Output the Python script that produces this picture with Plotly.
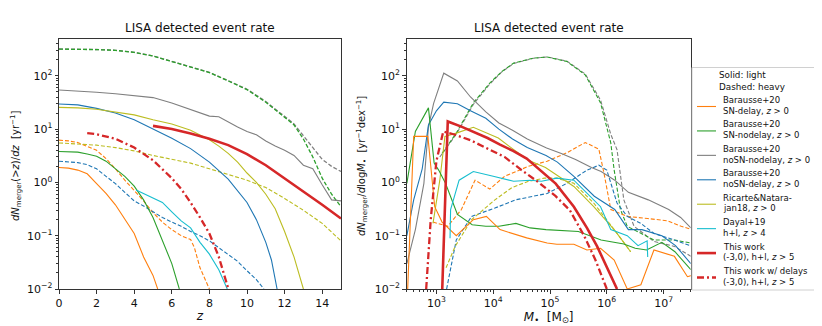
import numpy as np
import plotly.graph_objects as go

# colours (matplotlib tab10)
ORANGE = '#ff7f0e'
GREEN = '#2ca02c'
GREY = '#7f7f7f'
BLUE = '#1f77b4'
OLIVE = '#bcbd22'
CYAN = '#17becf'
RED = '#d62728'

# ---------------- left panel: dN(>z)/dz vs z ----------------
z_sndelay_l = [0, 0.5, 1, 1.5, 2, 2.5, 3, 3.5, 4, 4.5, 5, 5.25]
n_sndelay_l = [1.9, 1.85, 1.7, 1.45, 0.95, 0.62, 0.38, 0.2, 0.11, 0.04, 0.018, 0.01]
z_snnodelay_l = [0, 0.5, 1, 1.5, 2, 2.5, 3, 3.5, 4, 4.5, 5, 5.5, 6, 6.4]
n_snnodelay_l = [3.8, 3.8, 3.7, 3.4, 3.1, 2.5, 1.8, 1.3, 0.85, 0.47, 0.22, 0.08, 0.03, 0.01]
z_nosnnodelay_l = [0, 1, 2, 3, 4, 5, 6, 7, 7.5, 8, 8.5, 9, 9.5, 10, 10.5, 11, 11.5,
                   12, 12.5, 13, 13.5, 14, 14.5, 15]
n_nosnnodelay_l = [54, 52, 49, 46, 43, 39, 31, 23, 20, 17.5, 17, 13.5, 11, 9, 7.8, 6,
                   4.8, 4.0, 3.2, 2.1, 1.8, 0.9, 0.47, 0.45]
z_nosndelay_l = [0, 1, 2, 3, 4, 5, 6, 7, 8, 9, 10, 10.5, 11, 11.3, 11.6]
n_nosndelay_l = [29.5, 28.5, 24.5, 20, 15, 10, 6.7, 4.3, 2.4, 1.15, 0.42, 0.2, 0.075, 0.035, 0.01]
z_ricarte_l = [0, 1, 2, 3, 4, 5, 6, 7, 8, 8.5, 9, 9.5, 10, 10.5, 11, 11.5, 12, 12.5, 13]
n_ricarte_l = [25.5, 25, 23.5, 21, 18.5, 15, 12.5, 9.5, 6.3, 4.8, 3.5, 2.4, 1.5, 1.0,
               0.6, 0.32, 0.12, 0.04, 0.01]
z_dayal = [4.1, 4.5, 5, 5.5, 6, 6.5, 7, 7.5, 8, 8.5, 8.95]
n_dayal = [0.72, 0.62, 0.52, 0.42, 0.28, 0.19, 0.14, 0.075, 0.045, 0.023, 0.01]
z_thiswork = [5, 6, 7, 8, 9, 10, 11, 12, 13, 14, 15]
n_thiswork = [11.5, 10, 8.3, 6.6, 5.0, 3.4, 2.1, 1.2, 0.68, 0.38, 0.21]
z_thiswork_d = [1.5, 2, 3, 4, 5, 6, 6.5, 7, 7.5, 8, 8.5, 9, 9.05]
n_thiswork_d = [8.4, 8.0, 6.6, 4.5, 2.6, 1.2, 0.75, 0.42, 0.22, 0.11, 0.04, 0.011, 0.009]

z_sndelay_h = [0, 0.5, 1, 1.5, 2, 2.5, 3, 3.5, 4, 4.5, 5, 5.5, 6, 6.5, 7, 7.2, 7.5, 8]
n_sndelay_h = [6.2, 6.0, 5.6, 4.8, 4.0, 2.8, 1.8, 1.1, 0.7, 0.45, 0.27, 0.18, 0.13, 0.1,
               0.085, 0.06, 0.025, 0.01]
z_snnodelay_h = [0, 1, 2, 3, 4, 5, 6, 7, 8, 9, 10, 11, 12, 12.5, 13, 13.5, 14, 14.5, 15]
n_snnodelay_h = [316, 315, 310, 300, 275, 235, 185, 150, 115, 80, 55, 32, 17, 12, 6.5,
                 3.0, 1.2, 0.6, 0.35]
z_nosnnodelay_h = [0, 1, 2, 3, 4, 5, 6, 7, 8, 9, 10, 11, 12, 12.5, 13, 13.5, 14, 14.5, 15]
n_nosnnodelay_h = [318, 316, 311, 301, 276, 236, 186, 151, 116, 81, 56, 33, 17, 12.5,
                   7.5, 4.6, 2.7, 2.0, 1.6]
z_nosndelay_h = [0, 0.5, 1, 1.5, 2, 2.5, 3, 3.5, 4, 4.5, 5, 5.5, 6, 6.5, 7, 7.5, 8, 8.5,
                 9, 9.5, 10, 10.5, 10.9]
n_nosndelay_h = [2.5, 2.45, 2.35, 2.15, 1.8, 1.3, 0.95, 0.65, 0.45, 0.36, 0.28, 0.22,
                 0.18, 0.15, 0.12, 0.1, 0.08, 0.06, 0.045, 0.033, 0.022, 0.015, 0.01]
z_ricarte_h = [0, 1, 2, 3, 4, 5, 6, 7, 8, 9, 10, 11, 12, 13, 14, 15]
n_ricarte_h = [5.5, 5.3, 5.0, 4.5, 3.9, 3.2, 2.7, 2.3, 1.8, 1.4, 1.1, 0.8, 0.5, 0.3, 0.17, 0.08]

# ---------------- right panel: dN/dlogM vs M (log10 M) ----------------
lm_sndelay_l = [2.48, 2.6, 2.85, 2.97, 3.1, 3.35, 3.65, 3.88, 4.12, 4.59, 4.95, 5.12,
                5.42, 5.65, 5.89, 6.13, 6.36, 6.6, 6.83, 7.19, 7.42, 7.5]
r_sndelay_l = [0.004, 7.3, 7.3, 0.35, 0.18, 0.1, 0.2, 0.23, 0.13, 0.091, 0.073, 0.069,
               0.069, 0.054, 0.058, 0.035, 0.01, 0.012, 0.054, 0.041, 0.017, 0.018]
lm_snnodelay_l = [2.48, 2.63, 2.86, 2.96, 3.04, 3.16, 3.37, 3.63, 3.87, 4.1, 4.4, 4.65,
                  4.93, 5.2, 5.5, 5.9, 6.3, 6.5, 6.7, 6.97, 7.2, 7.48]
r_snnodelay_l = [0.96, 9, 25, 2.3, 1.7, 0.96, 0.25, 0.16, 0.15, 0.15, 0.17, 0.14, 0.13,
                 0.125, 0.12, 0.083, 0.07, 0.058, 0.054, 0.075, 0.05, 0.023]
lm_nosnnodelay_l = [2.48, 2.63, 2.78, 2.86, 2.95, 3.13, 3.37, 3.6, 3.87, 4.1, 4.34, 4.6,
                    4.94, 5.2, 5.45, 5.73, 5.9, 6.14, 6.38, 6.55, 6.73, 7.09, 7.3, 7.48]
r_nosnnodelay_l = [0.03, 0.13, 0.96, 11, 30, 112, 80, 40, 21, 13, 9.5, 6.5, 4.4, 3.5,
                   2.7, 1.9, 1.6, 1.1, 0.65, 0.55, 0.47, 0.31, 0.22, 0.14]
lm_nosndelay_l = [2.48, 2.6, 2.75, 2.86, 3.0, 3.13, 3.37, 3.6, 3.87, 4.1, 4.34, 4.6,
                  4.93, 5.13, 5.42, 5.78, 6.14, 6.38, 6.62, 6.97, 7.21, 7.48]
r_nosndelay_l = [0.1, 0.47, 1.8, 12, 22, 32, 30, 22, 16, 10, 6.5, 4.5, 3.2, 2.4, 1.3,
                 0.55, 0.31, 0.13, 0.13, 0.1, 0.065, 0.03]
lm_ricarte_l = [2.94, 3.06, 3.15, 3.35, 3.65, 4.09, 4.35, 4.62, 4.92, 5.15, 5.42, 5.77,
                6.13, 6.42]
r_ricarte_l = [0.17, 1.1, 7.3, 8.4, 10.8, 6.8, 4.2, 2.6, 1.9, 1.3, 0.84, 0.35, 0.13, 0.05]
lm_dayal = [3.24, 3.25, 3.4, 3.65, 4.0, 4.36, 4.65, 4.85, 5.12, 5.42, 5.65, 5.89, 6.07,
            6.36, 6.55, 6.71, 6.72]
r_dayal = [0.09, 0.31, 1.1, 1.6, 1.3, 1.05, 1.1, 1.05, 1.2, 1.1, 0.63, 0.35, 0.13, 0.1,
           0.065, 0.08, 0.04]
lm_thiswork = [3.1, 3.2, 3.45, 3.65, 3.9, 4.12, 4.35, 4.59, 4.83, 5.1, 5.42, 5.65,
               5.83, 6.0, 6.18]
r_thiswork = [0.008, 13.9, 11, 9, 6.8, 5.1, 3.9, 2.8, 1.7, 0.95, 0.35, 0.14, 0.063,
              0.025, 0.01]
lm_thiswork_d = [2.82, 2.9, 3.0, 3.12, 3.3, 3.6, 3.9, 4.2, 4.5, 4.8, 5.1, 5.35, 5.6,
                 5.8, 6.0]
r_thiswork_d = [0.01, 0.2, 2.5, 9.0, 8.0, 6.2, 4.3, 3.0, 1.7, 1.0, 0.55, 0.3, 0.1,
                0.035, 0.01]

lm_sndelay_h = [2.94, 3.2, 3.44, 3.68, 3.94, 4.2, 4.62, 4.95, 5.3, 5.62, 5.86, 5.95,
                6.07, 6.36, 6.72, 7.07, 7.31, 7.5]
r_sndelay_h = [0.18, 0.15, 0.31, 1.1, 0.75, 1.3, 2.0, 2.5, 3.6, 5.6, 4.2, 1.5, 0.31,
               0.23, 0.21, 0.19, 0.15, 0.13]
lm_snnodelay_h = [3.1, 3.35, 3.65, 3.94, 4.15, 4.36, 4.71, 4.95, 5.3, 5.62, 5.89, 6.07,
                  6.13, 6.24, 6.36, 6.6, 6.83, 7.19, 7.48]
r_snnodelay_h = [3.5, 8.4, 31, 73, 120, 173, 215, 225, 185, 104, 31, 5.5, 1.7, 0.31,
                 0.15, 0.11, 0.083, 0.083, 0.073]
lm_nosnnodelay_h = [3.06, 3.35, 3.65, 3.94, 4.15, 4.36, 4.71, 4.95, 5.3, 5.62, 5.89,
                    6.07, 6.18, 6.3, 6.48, 6.83, 7.19, 7.48]
r_nosnnodelay_h = [3.0, 8.0, 29, 70, 118, 170, 213, 226, 188, 108, 35, 8, 4.1, 0.47,
                   0.15, 0.078, 0.063, 0.041]
lm_nosndelay_h = [3.18, 3.35, 3.62, 4.03, 4.39, 4.7, 4.95, 5.3, 5.65, 5.86, 6.0, 6.18,
                  6.36, 6.6, 6.83, 7.19, 7.5]
r_nosndelay_h = [0.01, 0.083, 0.23, 0.33, 0.47, 0.55, 0.62, 0.96, 1.7, 2.1, 1.7, 0.41,
                 0.23, 0.17, 0.11, 0.083, 0.063]
lm_ricarte_h = [3.17, 3.33, 3.62, 4.03, 4.33, 4.62, 4.9, 5.12, 5.42, 5.77, 6.13, 6.42]
r_ricarte_h = [0.025, 0.063, 0.2, 0.47, 0.8, 1.05, 1.2, 1.2, 0.96, 0.41, 0.13, 0.05]

# tick labels
y_tickvals = [1e-2, 1e-1, 1, 10, 100]
y_ticktext = ['10<sup>−2</sup>', '10<sup>−1</sup>', '10<sup>0</sup>', '10<sup>1</sup>',
              '10<sup>2</sup>']
m_tickvals = [1e3, 1e4, 1e5, 1e6, 1e7]
m_ticktext = ['10<sup>3</sup>', '10<sup>4</sup>', '10<sup>5</sup>', '10<sup>6</sup>',
              '10<sup>7</sup>']

# legend entries: (line 1, line 2)
legend_text = [
    ('Barausse+20', 'SN-delay, <i>z</i> > 0'),
    ('Barausse+20', 'SN-nodelay, <i>z</i> > 0'),
    ('Barausse+20', 'noSN-nodelay, <i>z</i> > 0'),
    ('Barausse+20', 'noSN-delay, <i>z</i> > 0'),
    ('Ricarte&amp;Natara-', 'jan18, <i>z</i> > 0'),
    ('Dayal+19', 'h+l, <i>z</i> > 4'),
    ('This work', '(-3,0), h+l, <i>z</i> > 5'),
    ('This work w/ delays', '(-3,0), h+l, <i>z</i> > 5'),
]

DASH = '4px,2px'
DASHDOT = '7px,3px,2px,3px'
legend_style = [(ORANGE, 1.1, 'solid'), (GREEN, 1.1, 'solid'), (GREY, 1.1, 'solid'),
                (BLUE, 1.1, 'solid'), (OLIVE, 1.1, 'solid'), (CYAN, 1.1, 'solid'),
                (RED, 2.6, 'solid'), (RED, 2.3, DASHDOT)]

fig = go.Figure()


def add(x, y, color, width=1.1, dash='solid', panel=1):
    xa, ya = ('x', 'y') if panel == 1 else ('x2', 'y2')
    if panel == 2:
        x = 10 ** np.array(x)
    fig.add_trace(go.Scatter(
        x=x, y=y, mode='lines', xaxis=xa, yaxis=ya,
        line=dict(color=color, width=width, dash=dash),
        showlegend=False, hoverinfo='skip'))


# left panel, heavy (dashed) first
add(z_nosnnodelay_h, n_nosnnodelay_h, GREY, 1.3, DASH)
add(z_snnodelay_h, n_snnodelay_h, GREEN, 1.3, DASH)
add(z_sndelay_h, n_sndelay_h, ORANGE, 1.1, DASH)
add(z_nosndelay_h, n_nosndelay_h, BLUE, 1.1, DASH)
add(z_ricarte_h, n_ricarte_h, OLIVE, 1.1, DASH)
add(z_nosnnodelay_l, n_nosnnodelay_l, GREY)
add(z_nosndelay_l, n_nosndelay_l, BLUE)
add(z_ricarte_l, n_ricarte_l, OLIVE)
add(z_snnodelay_l, n_snnodelay_l, GREEN)
add(z_sndelay_l, n_sndelay_l, ORANGE)
add(z_dayal, n_dayal, CYAN)
add(z_thiswork, n_thiswork, RED, 2.6)
add(z_thiswork_d, n_thiswork_d, RED, 2.3, DASHDOT)

# right panel
add(lm_nosnnodelay_h, r_nosnnodelay_h, GREY, 1.1, DASH, 2)
add(lm_snnodelay_h, r_snnodelay_h, GREEN, 1.1, DASH, 2)
add(lm_sndelay_h, r_sndelay_h, ORANGE, 1.1, DASH, 2)
add(lm_nosndelay_h, r_nosndelay_h, BLUE, 1.1, DASH, 2)
add(lm_ricarte_h, r_ricarte_h, OLIVE, 1.1, DASH, 2)
add(lm_nosnnodelay_l, r_nosnnodelay_l, GREY, panel=2)
add(lm_nosndelay_l, r_nosndelay_l, BLUE, panel=2)
add(lm_ricarte_l, r_ricarte_l, OLIVE, panel=2)
add(lm_snnodelay_l, r_snnodelay_l, GREEN, panel=2)
add(lm_sndelay_l, r_sndelay_l, ORANGE, panel=2)
add(lm_dayal, r_dayal, CYAN, panel=2)
add(lm_thiswork, r_thiswork, RED, 2.6, panel=2)
add(lm_thiswork_d, r_thiswork_d, RED, 2.3, DASHDOT, panel=2)

FONT = 'DejaVu Sans'
axis_common = dict(showline=True, mirror=True, linecolor='#333', linewidth=1,
                   ticks='outside', ticklen=3.5, tickcolor='#333', showgrid=False,
                   zeroline=False, automargin=False, tickfont=dict(size=11, color='#111'))
minor_log = dict(ticks='outside', ticklen=2, tickcolor='#333', dtick='D1')
ylog = dict(type='log', range=[-2, np.log10(490)], tickvals=y_tickvals,
            ticktext=y_ticktext, minor=minor_log, **axis_common)

# the page body adds an 8px offset, so the figure is 8px smaller and
# positions below are given in window pixels and shifted back by OFF
OFF = 8
W, H = 822 - OFF, 326 - OFF
ml, mr, mt, mb = 59 - OFF, 4, 39 - OFF, H - (289 - OFF)
pw = W - ml - mr
ph = H - mt - mb


def px(xpix):
    return (xpix - OFF - ml) / pw


def py(ypix):
    return (H - mb - (ypix - OFF)) / ph


def note(text, x, y, size, xanchor='left', angle=0):
    return dict(text=text, x=px(x), y=py(y), xref='paper', yref='paper',
                showarrow=False, font=dict(size=size), xanchor=xanchor,
                yanchor='middle', textangle=angle)


LEG = 8.5
# hand-built legend box in the right margin
shapes = [dict(type='rect', xref='paper', yref='paper', x0=px(692), x1=px(817),
               y0=py(290), y1=py(67.5), line=dict(color='#d0d0d0', width=1),
               fillcolor='white', layer='above')]
annotations = [
    note('LISA detected event rate', 200, 28, 12, 'center'),
    note('LISA detected event rate', 548.7, 28, 12, 'center'),
    note('<i>dN</i><sub>merger</sub>(><i>z</i>)/<i>dz</i>  [yr<sup>−1</sup>]',
         16, 166, 10, 'center', -90),
    note('<i>dN</i><sub>merger</sub>/<i>d</i>log<i>M</i><sub>•</sub>  '
         '[yr<sup>−1</sup>dex<sup>−1</sup>]', 362, 166, 10, 'center', -90),
    note('Solid: light', 717, 75, LEG + 0.3),
    note('Dashed: heavy', 717, 86.7, LEG + 0.3),
]
for i, ((l1, l2), (col, lw, dsh)) in enumerate(zip(legend_text, legend_style)):
    y1 = 100 + i * 24.43
    annotations.append(note(l1, 720.5, y1, LEG))
    annotations.append(note(l2, 720.5, y1 + 10.7, LEG))
    shapes.append(dict(type='line', xref='paper', yref='paper', x0=px(697), x1=px(716),
                       y0=py(y1 + 6.5), y1=py(y1 + 6.5), layer='above',
                       line=dict(color=col, width=lw, dash=dsh)))

fig.update_layout(
    width=W, height=H, margin=dict(l=ml, r=mr, t=mt, b=mb, autoexpand=False),
    paper_bgcolor='white', plot_bgcolor='white', showlegend=False,
    font=dict(family=FONT, size=11, color='#111'),
    xaxis=dict(domain=[0, px(341)], range=[0, 15], dtick=2, anchor='y',
               title=dict(text='<i>z</i>', font=dict(size=12), standoff=2),
               **axis_common),
    yaxis=dict(domain=[0, 1], anchor='x', **ylog),
    xaxis2=dict(domain=[px(406.7), px(690.7)], type='log',
                range=[np.log10(300), np.log10(3e7)], anchor='y2',
                tickvals=m_tickvals, ticktext=m_ticktext, minor=minor_log,
                title=dict(text='<i>M</i><sub>•</sub>  [M<sub>⊙</sub>]', font=dict(size=12),
                           standoff=2),
                **axis_common),
    yaxis2=dict(domain=[0, 1], anchor='x2', **ylog),
    shapes=shapes,
    annotations=annotations,
)

fig.write_html("out.html")
